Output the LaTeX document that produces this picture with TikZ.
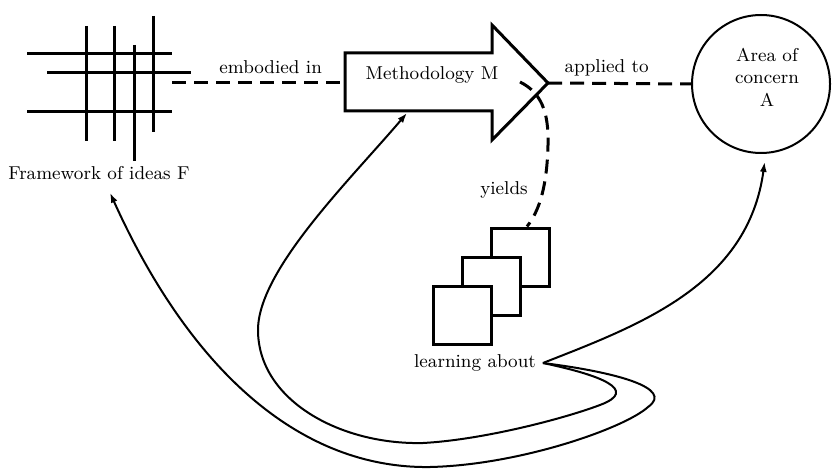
\documentclass[tikz,border=0pt]{standalone}
\usepackage{tikz}
\usetikzlibrary{arrows.meta,positioning}

\begin{document}
\begin{tikzpicture}[x=0.5pt,y=-0.5pt,on grid,>={Latex[length=5pt,width=3.5pt]},
	every node/.style={font=\fontsize{9.3}{11.2}\selectfont},
	bar/.style={line width=1.5pt},
	relation/.style={line width=1.5pt,dash pattern=on 7pt off 4pt},
	feedback/.style={->,line width=1pt},
	sheet/.style={draw,line width=1.5pt,fill=white,minimum size=29pt,inner sep=0pt}]
	\useasboundingbox (0,0) rectangle (833,470);
	% framework of ideas
	\foreach \x/\a/\b in {86/26/141,114/26/141,134/45/161,153/16/132}
		\draw[bar] (\x,\a) -- (\x,\b);
	\foreach \y/\a/\b in {54/27/172,73/47/191,112/27/172}
		\draw[bar] (\a,\y) -- (\b,\y);
	\coordinate (gridend) at (172,83);
	\node (frame) at (99,173) {Framework of ideas F};
	% methodology
	\draw[bar,fill=white] (345,53) -- (492,53) -- (492,25) -- (548,83) -- (492,140) -- (492,111) -- (345,111) -- cycle;
	\coordinate (mtail) at (345,83);
	\coordinate (mtip) at (548,83);
	\coordinate (mbase) at (407,113);
	\coordinate (myield) at (520,82);
	\node (meth) at (432,75) {Methodology M};
	% area of concern
	\node[draw,circle,line width=1pt,minimum size=69pt,inner sep=0pt] (area) at (761,84) {};
	\node[align=center] (areatext) at (767,77) {Area of\\concern\\A};
	% learning
	\node[sheet] (sq1) at (520,257) {};
	\draw[relation] (myield) .. controls (540,92) and (549,110) .. (548,145)
		.. controls (547,185) and (540,210) .. ([xshift=3.5pt]sq1.north);
	\node[sheet] (sq2) [below left=14.5pt and 14.5pt of sq1] {};
	\node[sheet] (sq3) [below left=14.5pt and 14.5pt of sq2] {};
	\node (learn) at (475,363) {learning about};
	\node (yields) at (504,190) {yields};
	\draw[relation] (gridend) -- node[pos=0.57,yshift=8pt] (embodied) {embodied in} (mtail);
	\draw[relation] (mtip) -- node[pos=0.41,yshift=8pt] (applied) {applied to} (area.west);
	% feedback loops
	\draw[feedback] (learn.east) .. controls (640,325) and (748,285) .. ([yshift=-4pt]area.-87);
	\draw[feedback] (learn.east) .. controls (600,375) and (640,390) .. (600,405)
		.. controls (560,420) and (480,440) .. (423,443)
		.. controls (340,445) and (258,400) .. (258,330)
		.. controls (258,270) and (350,180) .. (mbase);
	\draw[feedback] (learn.east) .. controls (615,372) and (675,388) .. (648,407)
		.. controls (625,428) and (520,465) .. (430,467)
		.. controls (300,469) and (190,370) .. ([xshift=5.5pt,yshift=-3pt]frame.south);
\end{tikzpicture}
\end{document}
